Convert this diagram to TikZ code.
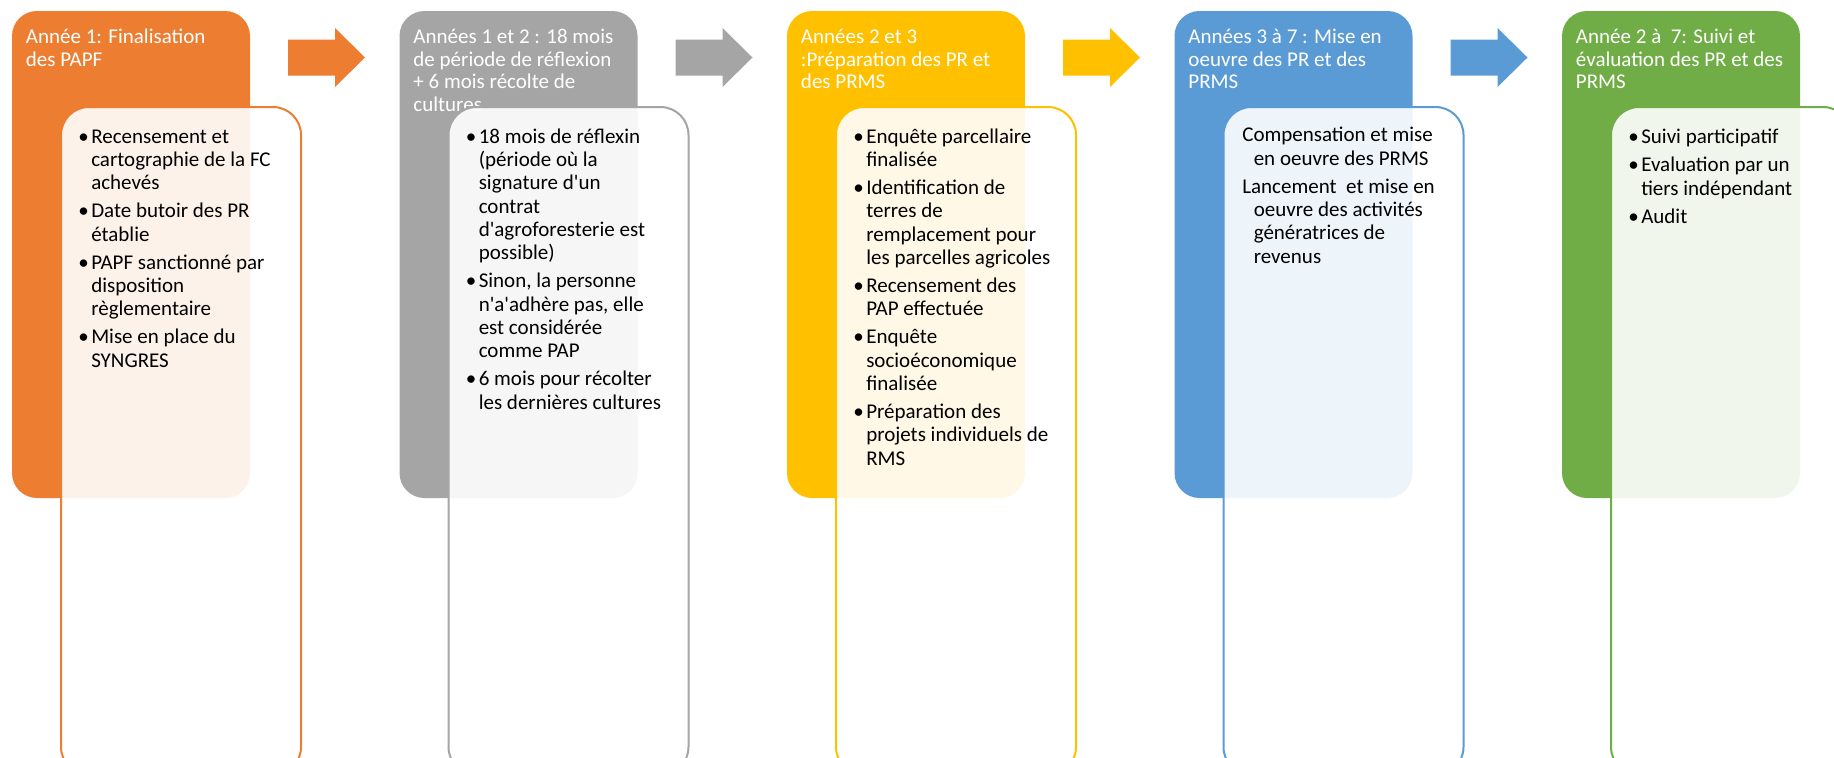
\documentclass[tikz,border=0pt]{standalone}
\usepackage{fontspec}
\setmainfont{Carlito}
\definecolor{phaseorange}{HTML}{ED7D31}
\definecolor{phasegray}{HTML}{A5A5A5}
\definecolor{phasegold}{HTML}{FFC000}
\definecolor{phaseblue}{HTML}{5B9BD5}
\definecolor{phasegreen}{HTML}{70AD47}
\newcommand{\itm}{\llap{\textbullet\hspace{1.8pt}}}
\newcommand{\hng}{\hspace*{-8.6pt}}
\newcommand{\apos}{\textquotesingle}
\newcommand{\rows}[1]{\begin{tabular}[t]{@{}l@{}}#1\end{tabular}}

\begin{document}
\begin{tikzpicture}[x=0.75pt,y=0.75pt,yscale=-1,xscale=1,
  phase/.style={rounded corners=18.75pt},
  detail/.style={rounded corners=21pt, line width=1.5pt, fill=white, fill opacity=0.9},
  titletxt/.style={anchor=base west, inner sep=0pt, text=white, font=\fontsize{15.75}{17.1}\selectfont},
  bodytxt/.style={anchor=base west, inner sep=0pt, text=black, font=\fontsize{15.75}{17.5}\selectfont}]
%set diagram left start at 0, and has height of 757
\useasboundingbox (0,0) rectangle (1834,757);
\clip (0,0) rectangle (1834,757);

%Shape: Rounded Rect [id:phase1]
\fill[phase, phaseorange] (12,11) rectangle (250,498);
% Text Node
\node[titletxt] (t1) at (25.7,43.3) {\rows{Année 1: Finalisation\\des PAPF}};
%Shape: Rounded Rect [id:detail1]
\draw[detail, draw=phaseorange] (61,107) rectangle (301,775);
% Text Node
\node[bodytxt] (b1) at (91,143.3) {\rows{\itm Recensement et\\cartographie de la FC\\achevés\\[3.5pt]
  \itm Date butoir des PR\\établie\\[3.5pt]
  \itm PAPF sanctionné par\\disposition\\règlementaire\\[3.5pt]
  \itm Mise en place du\\SYNGRES}};

%Shape: Right Arrow [id:arrow1]
\fill[phaseorange] (288,39.5) -- (335,39.5) -- (335,28) -- (365,57.5) -- (335,87) -- (335,75.5) -- (288,75.5) -- cycle ;

%Shape: Rounded Rect [id:phase2]
\fill[phase, phasegray] (399.5,11) rectangle (637.5,498);
% Text Node
\node[titletxt] (t2) at (413.2,43.3) {\rows{Années 1 et 2 : 18 mois\\de période de réflexion\\+ 6 mois récolte de\\cultures}};
%Shape: Rounded Rect [id:detail2]
\draw[detail, draw=phasegray] (448.5,107) rectangle (688.5,775);
% Text Node
\node[bodytxt] (b2) at (478.5,143.3) {\rows{\itm 18 mois de réflexin\\(période où la\\signature d\apos un\\contrat\\d\apos agroforesterie est\\possible)\\[3.5pt]
  \itm Sinon, la personne\\n\apos a\apos adhère pas, elle\\est considérée\\comme PAP\\[3.5pt]
  \itm 6 mois pour récolter\\les dernières cultures}};

%Shape: Right Arrow [id:arrow2]
\fill[phasegray] (675.5,39.5) -- (722.5,39.5) -- (722.5,28) -- (752.5,57.5) -- (722.5,87) -- (722.5,75.5) -- (675.5,75.5) -- cycle ;

%Shape: Rounded Rect [id:phase3]
\fill[phase, phasegold] (787,11) rectangle (1025,498);
% Text Node
\node[titletxt] (t3) at (800.7,43.3) {\rows{Années 2 et 3\\:Préparation des PR et\\des PRMS}};
%Shape: Rounded Rect [id:detail3]
\draw[detail, draw=phasegold] (836,107) rectangle (1076,775);
% Text Node
\node[bodytxt] (b3) at (866,143.3) {\rows{\itm Enquête parcellaire\\finalisée\\[3.5pt]
  \itm Identification de\\terres de\\remplacement pour\\les parcelles agricoles\\[3.5pt]
  \itm Recensement des\\PAP effectuée\\[3.5pt]
  \itm Enquête\\socioéconomique\\finalisée\\[3.5pt]
  \itm Préparation des\\projets individuels de\\RMS}};

%Shape: Right Arrow [id:arrow3]
\fill[phasegold] (1063,39.5) -- (1110,39.5) -- (1110,28) -- (1140,57.5) -- (1110,87) -- (1110,75.5) -- (1063,75.5) -- cycle ;

%Shape: Rounded Rect [id:phase4]
\fill[phase, phaseblue] (1174.5,11) rectangle (1412.5,498);
% Text Node
\node[titletxt] (t4) at (1188.2,43.3) {\rows{Années 3 à 7 : Mise en\\oeuvre des PR et des\\PRMS}};
%Shape: Rounded Rect [id:detail4]
\draw[detail, draw=phaseblue] (1223.5,107) rectangle (1463.5,775);
% Text Node
\node[bodytxt] (b4) at (1253.5,141.7) {\rows{\hng Compensation et mise\\en oeuvre des PRMS\\[3.5pt]
  \hng Lancement~ et mise en\\oeuvre des activités\\génératrices de\\revenus}};

%Shape: Right Arrow [id:arrow4]
\fill[phaseblue] (1450.5,39.5) -- (1497.5,39.5) -- (1497.5,28) -- (1527.5,57.5) -- (1497.5,87) -- (1497.5,75.5) -- (1450.5,75.5) -- cycle ;

%Shape: Rounded Rect [id:phase5]
\fill[phase, phasegreen] (1562,11) rectangle (1800,498);
% Text Node
\node[titletxt] (t5) at (1575.7,43.3) {\rows{Année 2 à~ 7: Suivi et\\évaluation des PR et des\\PRMS}};
%Shape: Rounded Rect [id:detail5]
\draw[detail, draw=phasegreen] (1611,107) rectangle (1851,775);
% Text Node
\node[bodytxt] (b5) at (1641,143.3) {\rows{\itm Suivi participatif\\[4pt]
  \itm Evaluation par un\\tiers indépendant\\[3.5pt]
  \itm Audit}};

\end{tikzpicture}
\end{document}
